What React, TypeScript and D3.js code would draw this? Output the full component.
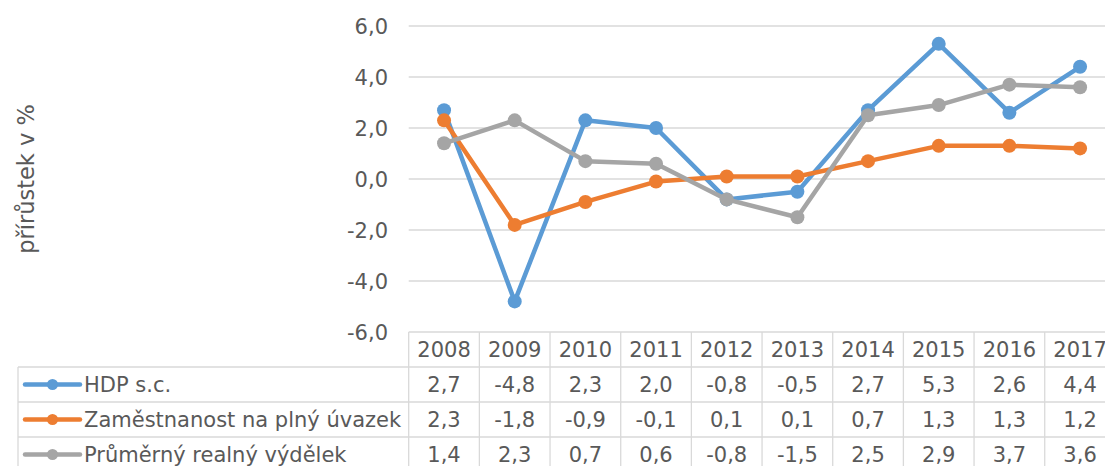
import React, { useEffect, useRef } from 'react';
import * as d3 from 'd3';

const years = ['2008', '2009', '2010', '2011', '2012', '2013', '2014', '2015', '2016', '2017'];
const hdp = [2.7, -4.8, 2.3, 2.0, -0.8, -0.5, 2.7, 5.3, 2.6, 4.4];
const zamestnanost = [2.3, -1.8, -0.9, -0.1, 0.1, 0.1, 0.7, 1.3, 1.3, 1.2];
const vydelek = [1.4, 2.3, 0.7, 0.6, -0.8, -1.5, 2.5, 2.9, 3.7, 3.6];
const seriesNames = ['HDP s.c.', 'Zaměstnanost na plný úvazek', 'Průměrný realný výdělek'];
const seriesColors = ['#5B9BD5', '#ED7D31', '#A5A5A5'];
const yTicks = [-6, -4, -2, 0, 2, 4, 6];

function App() {
  const svgRef = useRef<SVGSVGElement>(null);

  useEffect(() => {
    const width = 1105;
    const height = 466;
    const left = 408.7;
    const top = 26;
    const bottom = 332;
    const rowH = 35;
    const legendLeft = 18;
    const font = 'DejaVu Sans, Verdana, sans-serif';
    const fontSize = 21;
    const textColor = '#595959';
    const gridColor = '#D9D9D9';

    const svg = d3.select(svgRef.current);
    svg.selectAll('*').remove();
    svg.attr('width', width).attr('height', height);

    const locale = d3.formatLocale({ decimal: ',', thousands: ' ', grouping: [3], currency: ['', ''], minus: '-' });
    const fmt = locale.format('.1f');

    const x = d3.scaleBand<string>().domain(years).range([left, left + 70.67 * years.length]);
    const y = d3.scaleLinear().domain([-6, 6]).range([bottom, top]);

    // gridlines
    svg.append('g')
      .selectAll('line')
      .data(yTicks)
      .join('line')
      .attr('x1', left)
      .attr('x2', width)
      .attr('y1', d => y(d))
      .attr('y2', d => y(d))
      .attr('stroke', gridColor)
      .attr('stroke-width', 1.3);

    // y tick labels
    svg.append('g')
      .selectAll('text')
      .data(yTicks)
      .join('text')
      .attr('x', 388)
      .attr('y', d => y(d))
      .attr('dy', '0.36em')
      .attr('text-anchor', 'end')
      .attr('font-family', font)
      .attr('font-size', fontSize)
      .attr('fill', textColor)
      .text(d => fmt(d));

    // y axis title
    svg.append('text')
      .attr('transform', `translate(34,${(top + bottom) / 2}) rotate(-90)`)
      .attr('text-anchor', 'middle')
      .attr('font-family', font)
      .attr('font-size', 22.5)
      .attr('fill', textColor)
      .text('přírůstek v %');

    // data table grid
    const table = svg.append('g');
    const rowLines = [bottom + rowH, bottom + rowH * 2, bottom + rowH * 3, bottom + rowH * 4];
    table.selectAll('line.h')
      .data(rowLines)
      .join('line')
      .attr('class', 'h')
      .attr('x1', legendLeft)
      .attr('x2', width)
      .attr('y1', d => d)
      .attr('y2', d => d)
      .attr('stroke', gridColor)
      .attr('stroke-width', 1.3);
    const colEdges = years.map(d => x(d) as number).concat([x.range()[1]]);
    table.selectAll('line.v')
      .data(colEdges)
      .join('line')
      .attr('class', 'v')
      .attr('x1', d => d)
      .attr('x2', d => d)
      .attr('y1', bottom)
      .attr('y2', height)
      .attr('stroke', gridColor)
      .attr('stroke-width', 1.3);
    table.append('line')
      .attr('x1', legendLeft)
      .attr('x2', legendLeft)
      .attr('y1', bottom + rowH)
      .attr('y2', height)
      .attr('stroke', gridColor)
      .attr('stroke-width', 1.3);

    // header years
    table.selectAll('text.year')
      .data(years)
      .join('text')
      .attr('class', 'year')
      .attr('x', d => (x(d) as number) + x.bandwidth() / 2)
      .attr('y', bottom + rowH / 2)
      .attr('dy', '0.36em')
      .attr('text-anchor', 'middle')
      .attr('font-family', font)
      .attr('font-size', fontSize)
      .attr('fill', textColor)
      .text(d => d);

    const allSeries = [hdp, zamestnanost, vydelek];
    const line = d3.line<number>()
      .x((_, i) => (x(years[i]) as number) + x.bandwidth() / 2)
      .y(d => y(d));

    allSeries.forEach((values, s) => {
      const color = seriesColors[s];
      const rowY = bottom + rowH * (s + 1) + rowH / 2;

      // table values
      table.append('g')
        .selectAll('text')
        .data(values)
        .join('text')
        .attr('x', (_, i) => (x(years[i]) as number) + x.bandwidth() / 2)
        .attr('y', rowY)
        .attr('dy', '0.36em')
        .attr('text-anchor', 'middle')
        .attr('font-family', font)
        .attr('font-size', fontSize)
        .attr('fill', textColor)
        .text(d => fmt(d));

      // legend key
      table.append('line')
        .attr('x1', 25)
        .attr('x2', 80)
        .attr('y1', rowY)
        .attr('y2', rowY)
        .attr('stroke', color)
        .attr('stroke-width', 4.5)
        .attr('stroke-linecap', 'round');
      table.append('circle')
        .attr('cx', 52.5)
        .attr('cy', rowY)
        .attr('r', 5.5)
        .attr('fill', color);
      table.append('text')
        .attr('x', 84)
        .attr('y', rowY)
        .attr('dy', '0.36em')
        .attr('font-family', font)
        .attr('font-size', fontSize)
        .attr('fill', textColor)
        .text(seriesNames[s]);
    });

    // lines and markers, drawn in series order
    allSeries.forEach((values, s) => {
      const color = seriesColors[s];
      const g = svg.append('g');
      g.append('path')
        .datum(values)
        .attr('d', line)
        .attr('fill', 'none')
        .attr('stroke', color)
        .attr('stroke-width', 4.5)
        .attr('stroke-linejoin', 'round');
      g.selectAll('circle')
        .data(values)
        .join('circle')
        .attr('cx', (_, i) => (x(years[i]) as number) + x.bandwidth() / 2)
        .attr('cy', d => y(d))
        .attr('r', 7)
        .attr('fill', color);
    });
  }, []);

  return (
    <svg ref={svgRef} style={{ position: 'absolute', left: 0, top: 0 }}></svg>
  );
}

export default App;
